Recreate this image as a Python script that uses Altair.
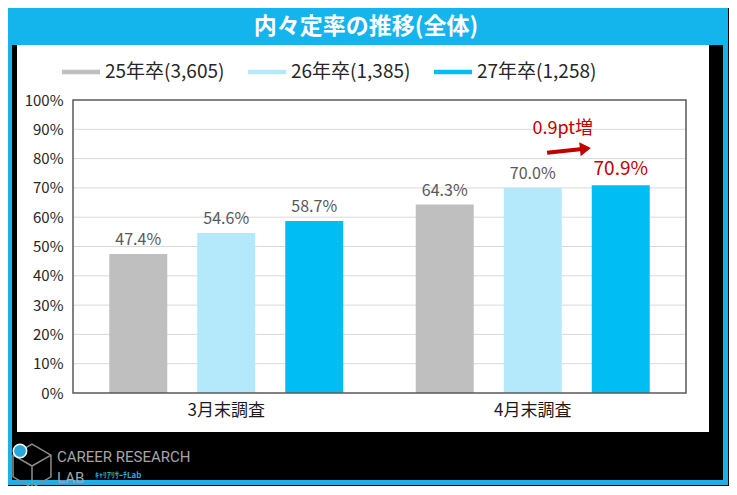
import altair as alt
import pandas as pd

# ---- data ----
groups = ["3月末調査", "4月末調査"]
series = ["25年卒(3,605)", "26年卒(1,385)", "27年卒(1,258)"]
rate_25 = [47.4, 64.3]
rate_26 = [54.6, 70.0]
rate_27 = [58.7, 70.9]
y_ticks = [0, 10, 20, 30, 40, 50, 60, 70, 80, 90, 100]
grid_vals = [10, 20, 30, 40, 50, 60, 70, 80, 90]
title_text = "内々定率の推移(全体)"
note_text = "0.9pt増"
note_level = [90.0]
arrow_level = [82.8]
logo_line1 = "CAREER RESEARCH"
logo_line2 = "LAB"
logo_sub = "ｷｬﾘｱﾘｻｰﾁLab"

rows = []
for i, g in enumerate(groups):
    for s, vals in zip(series, [rate_25, rate_26, rate_27]):
        rows.append({"group": g, "series": s, "rate": vals[i]})
df = pd.DataFrame(rows)
df["label"] = df["rate"].map(lambda v: f"{v:.1f}%")

one = pd.DataFrame({"k": [0]})

W, H = 613, 293
PAD_L, PAD_T = 65, 92
TOTAL_W, TOTAL_H = 721, 478
FONT = "Noto Sans CJK JP"
colors = ["#BFBFBF", "#B4E8FB", "#00BDF4"]

x = alt.X("group:N", sort=groups,
          scale=alt.Scale(paddingInner=0, paddingOuter=0),
          axis=alt.Axis(title=None, labelAngle=0, domain=False, ticks=False,
                        labelPadding=9, labelFontSize=17, labelColor="#1A1A1A",
                        labelFont=FONT, zindex=1))
xo = alt.XOffset("series:N", sort=series,
                 scale=alt.Scale(paddingInner=0.341, paddingOuter=0.412))
y = alt.Y("rate:Q", scale=alt.Scale(domain=[0, 100], nice=False),
          axis=alt.Axis(title=None, values=y_ticks, labelExpr="datum.value + '%'",
                        grid=False, domain=False, ticks=False, labelPadding=10,
                        labelFontSize=15, labelColor="#262626", labelFont=FONT,
                        zindex=1))


def deco_rect(x1, x2, y1, y2, color):
    return alt.Chart(one).mark_rect(color=color).encode(
        x=alt.value(x1), x2=alt.value(x2), y=alt.value(y1), y2=alt.value(y2))


bottom = TOTAL_H - PAD_T - 1
frame_outer = deco_rect(-65, 655, -92, bottom, "#1CB0E6")
frame_inner = deco_rect(-61, 650, -55, bottom - 5, "#000000")
panel = deco_rect(-56, 636, -55, 332, "#FFFFFF")
title_band = deco_rect(-65, 655, -92, -55, "#14B4EC")

title = alt.Chart(one).mark_text(fontSize=23, fontWeight="bold", color="white",
                                 align="center", baseline="middle", font=FONT).encode(
    x=alt.value(293), y=alt.value(-73), text=alt.value(title_text))

grid = alt.Chart(pd.DataFrame({"rate": grid_vals})).mark_rule(
    color="#D9D9D9", strokeWidth=1).encode(y=y, x=alt.value(0), x2=alt.value(W))

bars = alt.Chart(df).mark_bar().encode(
    x=x, xOffset=xo, y=y,
    color=alt.Color("series:N", sort=series,
                    scale=alt.Scale(domain=series, range=colors),
                    legend=alt.Legend(title=None, orient="none", legendX=-11, legendY=-47,
                                      direction="horizontal",
                                      symbolType="M-1,-0.12H1V0.12H-1Z",
                                      symbolSize=1444, symbolStrokeWidth=0,
                                      symbolOpacity=1,
                                      labelFontSize=19, labelColor="#262626",
                                      labelFont=FONT, labelOffset=5,
                                      columnPadding=23, zindex=1)))

hl = (alt.datum.group == "4月末調査") & (alt.datum.series == "27年卒(1,258)")

labels = alt.Chart(df).transform_filter(~hl).mark_text(
    dy=-9, fontSize=16, color="#595959", baseline="alphabetic", font=FONT).encode(
    x=x, xOffset=xo, y=y, text="label:N")

hl_label = alt.Chart(df).transform_filter(hl).mark_text(
    dy=-10, fontSize=19, color="#C00000", baseline="alphabetic", font=FONT).encode(
    x=x, xOffset=xo, y=y, text="label:N")

border = alt.Chart(one).mark_rect(fillOpacity=0, stroke="#595959", strokeWidth=1.5).encode(
    x=alt.value(0), x2=alt.value(W), y=alt.value(0), y2=alt.value(H))

note = alt.Chart(pd.DataFrame({"rate": note_level})).mark_text(
    fontSize=18, color="#C00000", baseline="middle", font=FONT, dx=30).encode(
    x=alt.datum("4月末調査"), xOffset=alt.datum("26年卒(1,385)"), y=y,
    text=alt.value(note_text))

arrow = alt.Chart(pd.DataFrame({"rate": arrow_level})).mark_point(
    shape="M-1,-0.09L0.5,-0.09L0.5,-0.32L1,0L0.5,0.32L0.5,0.09L-1,0.09Z",
    filled=True, color="#C00000", opacity=1, size=1936, angle=354).encode(
    x=alt.value(496), y=y)

# logo
icon = alt.Chart(one).mark_point(
    shape="M0,-1L0.87,-0.5L0.87,0.5L0,1L-0.87,0.5L-0.87,-0.5Z M0,0L0.87,-0.5 M0,0L0,1 M0,0L-0.87,-0.5",
    filled=False, color="#8C8C8C", strokeWidth=1.5, size=1900, opacity=1).encode(
    x=alt.value(-41), y=alt.value(366))
icon_dot = alt.Chart(one).mark_point(
    shape="circle", filled=True, color="#2AA7DC", size=180, opacity=1,
    stroke="white", strokeWidth=1.5).encode(x=alt.value(-53), y=alt.value(351))
logo1 = alt.Chart(one).mark_text(fontSize=15, color="#A6A6A6", align="left",
                                 baseline="middle", font="Roboto").encode(
    x=alt.value(-16), y=alt.value(357), text=alt.value(logo_line1))
logo2 = alt.Chart(one).mark_text(fontSize=15, color="#A6A6A6", align="left",
                                 baseline="middle", font="Roboto").encode(
    x=alt.value(-16), y=alt.value(378), text=alt.value(logo_line2))
logo3 = alt.Chart(one).mark_text(fontSize=8, color="#2AA7DC", align="left",
                                 baseline="middle", font=FONT, fontWeight="bold").encode(
    x=alt.value(22), y=alt.value(376), text=alt.value(logo_sub))

chart = alt.layer(
    frame_outer, frame_inner, title_band, panel, title, grid, bars, labels, hl_label,
    border, note, arrow, icon, icon_dot, logo1, logo2, logo3
).properties(
    width=W, height=H,
    autosize=alt.AutoSizeParams(type="none"),
    padding={"left": PAD_L, "top": PAD_T,
             "right": TOTAL_W - PAD_L - W, "bottom": TOTAL_H - PAD_T - H},
).configure(
    background="black", font=FONT
).configure_view(stroke=None)

chart.save("out.html", embed_options={"renderer": "svg", "actions": False})
